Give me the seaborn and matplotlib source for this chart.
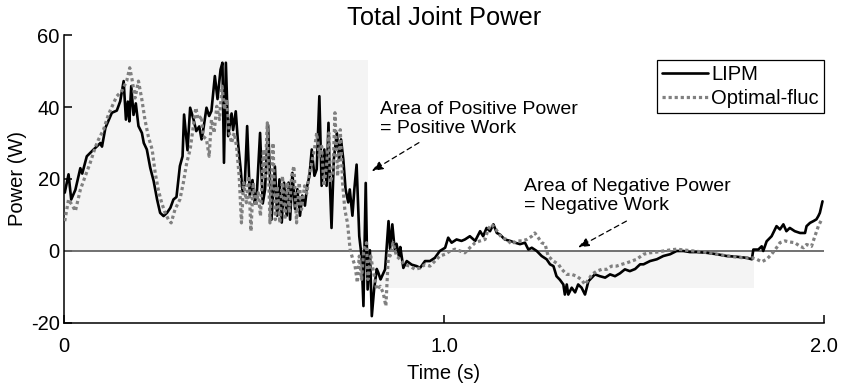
import matplotlib
matplotlib.use("Agg")
import matplotlib.pyplot as plt
import seaborn as sns
import pandas as pd

# ---- data -------------------------------------------------------------
lipm_time = [
    0.002, 0.012, 0.019, 0.030, 0.043, 0.048, 0.060, 0.078, 0.096, 0.100,
    0.109, 0.126, 0.139, 0.148, 0.157, 0.163, 0.168, 0.172, 0.177, 0.183,
    0.189, 0.196, 0.205, 0.210, 0.218, 0.227, 0.236, 0.245, 0.253, 0.262,
    0.271, 0.280, 0.288, 0.296, 0.305, 0.312, 0.316, 0.325, 0.332, 0.341,
    0.348, 0.356, 0.362, 0.366, 0.375, 0.382, 0.388, 0.397, 0.404, 0.412,
    0.417, 0.421, 0.426, 0.432, 0.441, 0.445, 0.452, 0.458, 0.465, 0.470,
    0.476, 0.482, 0.489, 0.496, 0.502, 0.508, 0.516, 0.523, 0.529, 0.537,
    0.546, 0.555, 0.561, 0.567, 0.573, 0.579, 0.586, 0.591, 0.595, 0.601,
    0.608, 0.614, 0.621, 0.627, 0.634, 0.640, 0.646, 0.652, 0.659, 0.665,
    0.672, 0.678, 0.685, 0.691, 0.696, 0.700, 0.704, 0.710, 0.718, 0.724,
    0.729, 0.735, 0.741, 0.748, 0.752, 0.759, 0.764, 0.770, 0.777, 0.783,
    0.788, 0.794, 0.799, 0.805, 0.810, 0.816, 0.823, 0.827, 0.833, 0.845,
    0.854, 0.858, 0.864, 0.870, 0.875, 0.882, 0.885, 0.893, 0.902, 0.915,
    0.928, 0.937, 0.950, 0.963, 0.976, 0.989, 1.003, 1.011, 1.020, 1.033,
    1.046, 1.055, 1.068, 1.082, 1.095, 1.103, 1.112, 1.121, 1.130, 1.139,
    1.147, 1.160, 1.174, 1.187, 1.200, 1.213, 1.222, 1.231, 1.244, 1.257,
    1.270, 1.279, 1.288, 1.296, 1.305, 1.314, 1.318, 1.323, 1.327, 1.336,
    1.345, 1.353, 1.362, 1.371, 1.380, 1.389, 1.397, 1.410, 1.424, 1.437,
    1.450, 1.463, 1.476, 1.489, 1.503, 1.516, 1.525, 1.542, 1.560, 1.577,
    1.595, 1.612, 1.630, 1.647, 1.665, 1.691, 1.718, 1.744, 1.770, 1.796,
    1.810, 1.814, 1.827, 1.836, 1.840, 1.849, 1.862, 1.875, 1.884, 1.893,
    1.901, 1.910, 1.923, 1.937, 1.950, 1.954, 1.963, 1.972, 1.980, 1.985,
    1.989, 1.996,
]
lipm_power = [
    16.2, 21.3, 14.3, 17.0, 23.0, 21.5, 26.3, 28.2, 30.0, 29.0,
    34.2, 38.4, 39.0, 41.6, 47.2, 36.5, 41.5, 36.0, 45.8, 37.8,
    41.0, 34.7, 32.8, 30.0, 28.2, 23.1, 19.4, 14.3, 10.6, 9.7,
    10.6, 12.0, 14.3, 15.0, 23.6, 26.3, 37.9, 28.0, 39.8, 36.5,
    33.3, 34.6, 31.0, 33.3, 39.8, 37.5, 38.9, 48.6, 42.2, 50.4,
    52.3, 24.5, 52.3, 31.9, 38.2, 33.6, 38.8, 30.0, 22.6, 16.2,
    19.0, 34.7, 15.2, 19.7, 13.2, 17.0, 32.8, 13.2, 17.0, 35.0,
    8.7, 23.5, 9.8, 19.9, 7.9, 19.0, 9.8, 19.0, 8.7, 21.7,
    11.7, 17.2, 9.8, 15.4, 12.6, 18.1, 20.9, 28.2, 20.9, 22.7,
    43.0, 18.1, 28.2, 18.1, 35.6, 18.1, 6.4, 25.4, 32.8, 25.4,
    31.0, 25.4, 17.1, 13.5, 17.1, 9.8, 17.1, 24.0, 4.1, -1.4,
    -15.3, 18.9, -10.7, 0.2, -18.1, -10.7, -5.0, -6.0, -7.9, -5.1,
    8.3, 0.6, 7.4, 0.6, 2.0, -1.7, 1.1, -4.7, -2.8, -3.8,
    -4.2, -4.7, -2.8, -2.8, -1.9, 0.0, 0.9, 3.7, 2.3, 3.2,
    2.8, 3.2, 4.1, 2.8, 5.5, 4.1, 6.4, 5.5, 7.4, 5.0,
    4.6, 3.2, 2.8, 2.3, 1.9, 2.3, 0.4, 0.9, 0.0, -1.4,
    -2.3, -3.7, -4.2, -7.0, -8.0, -9.3, -12.1, -9.3, -12.1, -10.2,
    -11.5, -9.3, -10.2, -12.1, -8.4, -7.4, -6.5, -7.0, -7.4, -6.5,
    -7.0, -6.2, -5.1, -5.6, -5.0, -3.7, -3.7, -2.8, -2.3, -1.4,
    -0.9, 0.0, 0.0, -0.3, -0.3, -0.5, -0.9, -1.4, -1.6, -1.9,
    -2.3, 0.4, 0.4, 1.3, 0.0, 2.7, 4.1, 6.9, 6.0, 7.4,
    5.5, 6.4, 5.5, 5.0, 5.0, 6.9, 7.8, 8.3, 8.8, 9.7,
    10.6, 13.8,
]

fluc_time = [
    0.002, 0.012, 0.020, 0.030, 0.043, 0.056, 0.069, 0.082, 0.091, 0.104,
    0.117, 0.131, 0.139, 0.152, 0.165, 0.173, 0.179, 0.187, 0.196, 0.205,
    0.213, 0.222, 0.232, 0.240, 0.248, 0.257, 0.266, 0.275, 0.282, 0.292,
    0.305, 0.314, 0.323, 0.332, 0.338, 0.347, 0.353, 0.362, 0.366, 0.375,
    0.382, 0.388, 0.395, 0.402, 0.409, 0.416, 0.422, 0.428, 0.435, 0.441,
    0.448, 0.454, 0.461, 0.467, 0.473, 0.480, 0.486, 0.492, 0.498, 0.505,
    0.511, 0.517, 0.525, 0.529, 0.535, 0.542, 0.550, 0.556, 0.561, 0.568,
    0.575, 0.581, 0.588, 0.593, 0.599, 0.605, 0.612, 0.619, 0.625, 0.633,
    0.639, 0.646, 0.652, 0.659, 0.665, 0.672, 0.678, 0.684, 0.691, 0.697,
    0.701, 0.708, 0.713, 0.720, 0.727, 0.733, 0.739, 0.746, 0.753, 0.760,
    0.766, 0.772, 0.777, 0.783, 0.789, 0.796, 0.800, 0.807, 0.813, 0.823,
    0.832, 0.840, 0.847, 0.854, 0.858, 0.866, 0.875, 0.884, 0.897, 0.910,
    0.924, 0.937, 0.950, 0.963, 0.976, 0.989, 1.003, 1.016, 1.029, 1.042,
    1.055, 1.068, 1.082, 1.095, 1.108, 1.116, 1.125, 1.134, 1.143, 1.152,
    1.165, 1.178, 1.191, 1.205, 1.218, 1.231, 1.239, 1.248, 1.257, 1.266,
    1.274, 1.288, 1.301, 1.310, 1.323, 1.336, 1.349, 1.362, 1.371, 1.380,
    1.389, 1.402, 1.415, 1.428, 1.441, 1.454, 1.468, 1.481, 1.494, 1.507,
    1.525, 1.542, 1.560, 1.577, 1.595, 1.612, 1.630, 1.656, 1.683, 1.709,
    1.735, 1.761, 1.788, 1.810, 1.823, 1.836, 1.849, 1.862, 1.875, 1.884,
    1.897, 1.910, 1.923, 1.937, 1.946, 1.954, 1.967, 1.976, 1.985, 1.994,
]
fluc_power = [
    8.3, 14.3, 13.0, 11.1, 17.0, 20.8, 24.5, 28.7, 31.0, 33.7,
    37.9, 41.2, 43.0, 44.4, 47.2, 50.9, 47.7, 42.5, 47.2, 42.0,
    36.5, 31.8, 28.2, 21.7, 17.1, 13.4, 10.6, 8.7, 7.8, 11.5,
    14.3, 18.9, 24.5, 28.2, 32.8, 39.8, 36.5, 37.5, 31.9, 31.0,
    26.3, 36.5, 32.8, 40.2, 36.5, 45.8, 39.3, 42.1, 32.8, 30.0,
    32.8, 29.1, 20.8, 7.8, 19.0, 13.4, 20.8, 5.5, 19.0, 12.5,
    16.2, 9.7, 28.2, 20.0, 35.6, 7.8, 30.0, 8.7, 18.0, 7.8,
    20.8, 8.7, 19.0, 10.6, 20.8, 23.6, 7.8, 19.0, 11.5, 18.1,
    16.0, 21.7, 24.5, 28.2, 32.8, 26.3, 29.1, 18.1, 23.6, 32.8,
    19.0, 22.0, 38.4, 20.8, 33.7, 19.0, 11.5, 7.8, 0.4, -2.3,
    -4.2, -8.8, -1.4, -7.9, 0.4, 2.3, -7.9, -1.4, -5.0, -10.7,
    -9.8, -11.6, -15.3, -0.5, -1.4, 2.3, -1.4, -2.3, -3.8, -4.2,
    -5.1, -4.7, -3.8, -4.2, -2.8, -1.4, -0.9, 0.0, 0.5, 0.0,
    -0.5, 0.9, 2.3, 2.8, 3.2, 6.0, 7.4, 6.4, 5.0, 3.7,
    3.2, 1.9, 2.8, 2.8, 3.2, 4.1, 5.0, 3.7, 2.3, 1.9,
    -1.4, -2.8, -3.7, -5.1, -6.5, -6.5, -7.0, -8.0, -9.3, -8.0,
    -6.5, -5.6, -5.1, -5.1, -4.2, -4.2, -3.7, -3.3, -2.8, -2.3,
    -0.9, -0.5, -0.3, 0.0, 0.3, 0.5, 0.3, 0.0, -0.3, -0.7,
    -1.2, -1.6, -1.9, -1.9, -2.3, -3.0, -2.3, -0.9, 0.9, 2.3,
    2.8, 2.5, 2.3, 1.3, 0.9, 1.8, 1.3, 4.1, 6.9, 8.8,
]

series_names = ["LIPM", "Optimal-fluc"]
x_ticks = [0.0, 1.0, 2.0]
x_tick_labels = ["0", "1.0", "2.0"]
y_ticks = [-20, 0, 20, 40, 60]

# shaded work regions: (t_start, t_end, power_low, power_high)
positive_region = (0.0, 0.80, 0.0, 53.0)
negative_region = (0.80, 1.815, -10.3, 0.0)

# ---- style ------------------------------------------------------------
sns.set_theme(style="ticks")
plt.rcParams["font.family"] = ["Liberation Sans", "DejaVu Sans"]
plt.rcParams["axes.linewidth"] = 1.1
plt.rcParams["axes.unicode_minus"] = False
plt.rcParams["text.color"] = "black"
plt.rcParams["axes.labelcolor"] = "black"

fig = plt.figure(figsize=(8.43, 3.83), dpi=100)
ax = fig.add_axes([0.0759, 0.1567, 0.9016, 0.7519])

shade = "#f4f4f4"
for t0, t1, lo, hi in (positive_region, negative_region):
    ax.fill_between([t0, t1], lo, hi, color=shade, lw=0, zorder=0)

ax.axhline(0, color="#666666", lw=1.3, zorder=1)

lipm_df = pd.DataFrame({"Time": lipm_time, "Power": lipm_power})
fluc_df = pd.DataFrame({"Time": fluc_time, "Power": fluc_power})

sns.lineplot(data=lipm_df, x="Time", y="Power", ax=ax, estimator=None,
             sort=False, color="black", lw=1.9, label=series_names[0],
             zorder=3)
sns.lineplot(data=fluc_df, x="Time", y="Power", ax=ax, estimator=None,
             sort=False, color="#808080", lw=2.3,
             linestyle=(0, (1, 0.9)), label=series_names[1], zorder=4)

ax.set_xlim(0, 2)
ax.set_ylim(-20, 60)
ax.set_xticks(x_ticks)
ax.set_xticklabels(x_tick_labels)
ax.set_yticks(y_ticks)

sns.despine(ax=ax)
for side in ("left", "bottom"):
    ax.spines[side].set_color("black")

ax.tick_params(axis="both", direction="in", length=6, width=1.1,
               labelsize=14.5, colors="black")
ax.tick_params(axis="x", pad=10)
ax.tick_params(axis="y", pad=3)

ax.set_xlabel("Time (s)", fontsize=14.5, labelpad=6)
ax.set_ylabel("Power (W)", fontsize=14.5, labelpad=3)
ax.set_title("Total Joint Power", fontsize=18.3, pad=7, color="black")

# annotations
ax.text(0.832, 36.7, "Area of Positive Power\n= Positive Work",
        fontsize=14, ha="left", va="center", linespacing=1.15)
ax.text(1.2105, 15.3, "Area of Negative Power\n= Negative Work",
        fontsize=14, ha="left", va="center", linespacing=1.15)

arrow_style = dict(arrowstyle="-|>,head_length=0.55,head_width=0.22",
                   color="black", lw=0.9, linestyle=(0, (4, 3)),
                   shrinkA=0, shrinkB=0)
ax.annotate("", xy=(0.81, 22.2), xytext=(0.934, 30.1),
            arrowprops=arrow_style)
ax.annotate("", xy=(1.353, 1.0), xytext=(1.48, 8.3),
            arrowprops=arrow_style)

leg = ax.legend(loc="upper right", bbox_to_anchor=(1.0, 1 - 25 / 288),
                borderaxespad=0, frameon=True, fancybox=False,
                edgecolor="black", framealpha=1, fontsize=14.5,
                handlelength=2.3, handletextpad=0.15, borderpad=0.25,
                labelspacing=0.25)
leg.get_frame().set_linewidth(0.9)

fig.savefig("out.png", dpi=100)
